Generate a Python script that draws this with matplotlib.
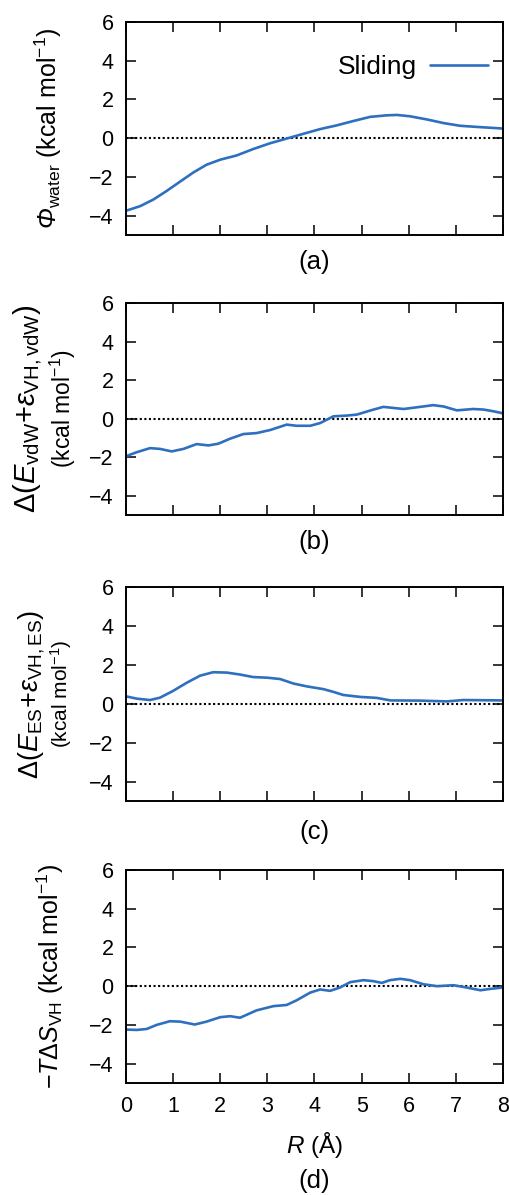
import matplotlib
matplotlib.use('Agg')
import matplotlib.pyplot as plt
from matplotlib.transforms import Bbox, TransformedBbox

plt.rcParams['font.family'] = ['Liberation Sans', 'DejaVu Sans']
plt.rcParams['mathtext.fontset'] = 'custom'
plt.rcParams['mathtext.rm'] = 'Liberation Sans'
plt.rcParams['mathtext.it'] = 'Liberation Sans:italic'
# slanted slot, used for the capital Greek letter that 'it' keeps upright
plt.rcParams['mathtext.sf'] = 'Liberation Sans:italic'

LINE_COLOR = '#2f6fbf'

# water contribution, panel (a)
r_a = [0.01, 0.3, 0.58, 0.86, 1.15, 1.43, 1.71, 2.0, 2.35, 2.7, 3.06, 3.41,
       3.77, 4.12, 4.47, 4.83, 5.18, 5.53, 5.75, 6.03, 6.38, 6.74, 7.09, 7.52,
       7.99]
phi_water = [-3.74, -3.51, -3.17, -2.73, -2.24, -1.77, -1.37, -1.11, -0.89,
             -0.56, -0.26, -0.02, 0.23, 0.47, 0.66, 0.89, 1.10, 1.18, 1.2,
             1.13, 0.97, 0.78, 0.64, 0.57, 0.5]

# van der Waals term, panel (b)
r_b = [0.0, 0.23, 0.51, 0.72, 0.97, 1.22, 1.5, 1.75, 1.96, 2.21, 2.49, 2.77,
       3.06, 3.41, 3.62, 3.91, 4.12, 4.4, 4.69, 4.9, 5.18, 5.46, 5.89, 6.24,
       6.52, 6.74, 7.02, 7.37, 7.59, 7.8, 7.99]
d_vdw = [-1.95, -1.74, -1.53, -1.57, -1.7, -1.57, -1.32, -1.39, -1.3, -1.04,
         -0.8, -0.75, -0.59, -0.31, -0.37, -0.37, -0.23, 0.12, 0.16, 0.21,
         0.42, 0.61, 0.5, 0.61, 0.7, 0.63, 0.43, 0.5, 0.47, 0.38, 0.28]

# electrostatic term, panel (c)
r_c = [0.0, 0.23, 0.51, 0.72, 1.0, 1.29, 1.57, 1.85, 2.14, 2.42, 2.7, 2.99,
       3.27, 3.55, 3.84, 4.19, 4.4, 4.61, 4.97, 5.32, 5.61, 6.24, 6.81, 7.16,
       7.99]
d_es = [0.38, 0.26, 0.19, 0.31, 0.66, 1.08, 1.44, 1.62, 1.6, 1.5, 1.37, 1.34,
        1.27, 1.04, 0.89, 0.75, 0.61, 0.45, 0.35, 0.3, 0.17, 0.16, 0.12, 0.19,
        0.17]

# entropy term, panel (d)
r_d = [0.0, 0.23, 0.44, 0.65, 0.93, 1.15, 1.46, 1.71, 2.0, 2.21, 2.42, 2.77,
       3.13, 3.41, 3.62, 3.91, 4.12, 4.33, 4.54, 4.76, 5.04, 5.25, 5.43, 5.6,
       5.82, 6.03, 6.31, 6.6, 6.95, 7.23, 7.52, 7.73, 7.99]
minus_tds = [-2.24, -2.26, -2.21, -2.0, -1.81, -1.83, -1.98, -1.83, -1.6,
             -1.55, -1.63, -1.25, -1.03, -0.97, -0.73, -0.33, -0.17, -0.24,
             -0.07, 0.21, 0.31, 0.26, 0.17, 0.31, 0.38, 0.31, 0.1, 0.0, 0.05,
             -0.07, -0.21, -0.14, -0.07]

x_ticks = [0, 1, 2, 3, 4, 5, 6, 7, 8]
y_ticks = [-4, -2, 0, 2, 4, 6]
y_tick_labels = ['\u22124', '\u22122', '0', '2', '4', '6']
panel_tags = ['(a)', '(b)', '(c)', '(d)']

W, H = 510, 1195
fig = plt.figure(figsize=(W / 100, H / 100), dpi=100)


def px_box(left, top, right, bottom):
    """Axes rectangle from pixel edges (origin at top-left)."""
    return [left / W, 1 - bottom / H, (right - left) / W, (bottom - top) / H]


boxes = [
    px_box(126, 22, 503, 235),
    px_box(126, 303, 503, 515),
    px_box(126, 587, 503, 801),
    px_box(126, 870, 503, 1083),
]
series = [(r_a, phi_water), (r_b, d_vdw), (r_c, d_es), (r_d, minus_tds)]

axes = []
for i, (box, (xs, ys)) in enumerate(zip(boxes, series)):
    ax = fig.add_axes(box)
    ax.axhline(0, color='black', ls=(0, (1, 1.2)), lw=1.5, zorder=1)
    ax.plot(xs, ys, color=LINE_COLOR, lw=1.9, zorder=2,
            solid_joinstyle='round', solid_capstyle='round',
            label='Sliding' if i == 0 else None)
    ax.set_xlim(0, 8)
    ax.set_ylim(-5, 6)
    ax.set_xticks(x_ticks)
    ax.set_yticks(y_ticks)
    ax.set_yticklabels(y_tick_labels)
    ax.tick_params(direction='in', length=7, width=1.1, top=True, right=True,
                   labelsize=15.5, pad=9)
    if i < 3:
        ax.tick_params(labelbottom=False)
    for sp in ax.spines.values():
        sp.set_linewidth(1.4)
    axes.append(ax)

# panel tags under each axes
tag_y = [262, 542, 832, 1181]
for tag, ypx in zip(panel_tags, tag_y):
    fig.text(314.5 / W, 1 - ypx / H, tag, ha='center', va='center',
             fontsize=18.5)


def ylab(ax, xpx, text, size):
    return ax.text((xpx - 126) / 377, 0.5, text, rotation=90, ha='center',
                   va='center', fontsize=size, transform=ax.transAxes)


ylab(axes[0], 48, r'$\mathsf{Φ}_{\rm water}$ (kcal mol$^{-1}$)', 18)
ylab(axes[1], 28, r'$\Delta(E_{\rm vdW}$+$\varepsilon_{\rm VH,vdW})$', 21)
ylab(axes[1], 63, '(kcal mol$^{-1}$)', 16.5)
ylab(axes[2], 32, r'$\Delta(E_{\rm ES}$+$\varepsilon_{\rm VH,ES})$', 19.5)
ylab(axes[2], 61, '(kcal mol$^{-1}$)', 15)
lab_d = ylab(axes[3], 50, r'$-T\Delta S_{\rm VH}$ (kcal mol$^{-1}$)', 18)
# the bottom panel's label runs past its top edge and is cut there
lab_d.set_clip_box(TransformedBbox(Bbox([[0, 0], [1, 1 - 862 / H]]),
                                   fig.transFigure))
lab_d.set_clip_on(True)

axes[3].set_xlabel(r'$R$ ($\rm\AA$)', fontsize=17.5, labelpad=10)

axes[0].legend(loc='center right', frameon=False, fontsize=19,
               markerfirst=False, handlelength=2.2, handletextpad=0.5,
               borderpad=0, borderaxespad=0,
               bbox_to_anchor=((488 - 126) / 377, (235 - 67) / 213))

fig.savefig('out.png', dpi=100)
